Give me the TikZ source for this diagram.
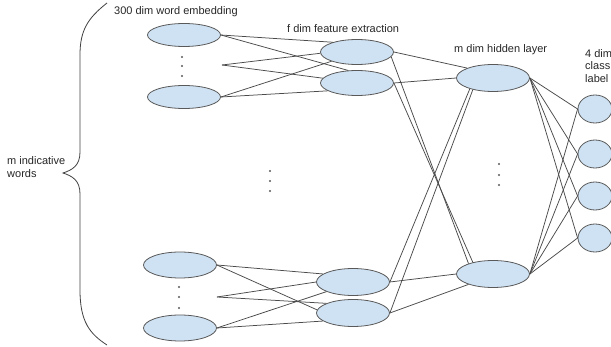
\documentclass[tikz,border=0pt]{standalone}
\usepackage{fontspec}
\setmainfont{Liberation Sans}
\usetikzlibrary{shapes.geometric}
\definecolor{nodefill}{HTML}{CFE2F3}
\definecolor{nodeline}{HTML}{595959}
\definecolor{wire}{HTML}{4A4A4A}
\tikzset{
  neuron/.style={ellipse, draw=nodeline, fill=nodefill, line width=0.8pt, inner sep=0pt, minimum width=73pt},
  conn/.style={draw=wire, line width=0.75pt},
  lbl/.style={inner sep=0pt, anchor=west, align=left, font=\fontsize{11}{12.5}\selectfont, text=black!85},
  vdot/.style={fill=black!65, circle, inner sep=0pt, minimum size=2.4pt}
}
\begin{document}
\begin{tikzpicture}[x=1pt,y=-1pt]
\useasboundingbox (0,0) rectangle (611,347);
% layer A
\node[neuron, minimum height=23pt] (A1) at (184,35) {};
\node[neuron, minimum height=23pt] (A2) at (184,97) {};
\node[neuron, minimum height=26pt] (A3) at (180,265) {};
\node[neuron, minimum height=26pt] (A4) at (180,328) {};
% layer B
\node[neuron, minimum height=25pt] (B1) at (357,52) {};
\node[neuron, minimum height=25pt] (B2) at (357,83) {};
\node[neuron, minimum height=27pt] (B3) at (353,282) {};
\node[neuron, minimum height=27pt] (B4) at (353,313) {};
% layer C
\node[neuron, minimum height=27pt] (C1) at (493,78) {};
\node[neuron, minimum height=27pt] (C2) at (493,274) {};
% layer D
\node[neuron, minimum width=34pt, minimum height=28pt] (D1) at (595,109) {};
\node[neuron, minimum width=34pt, minimum height=28pt] (D2) at (595,154) {};
\node[neuron, minimum width=34pt, minimum height=28pt] (D3) at (595,196) {};
\node[neuron, minimum width=34pt, minimum height=28pt] (D4) at (595,238) {};
% convergence points
\coordinate (P1) at (222,65);
\coordinate (P2) at (217,297);
% dots
\node[vdot] (d1) at (182,57) {};
\node[vdot] (d2) at (182,66) {};
\node[vdot] (d3) at (182,76) {};
\node[vdot] (d4) at (179,287) {};
\node[vdot] (d5) at (179,297) {};
\node[vdot] (d6) at (179,308) {};
\node[vdot] (d7) at (270,171) {};
\node[vdot] (d8) at (270,181) {};
\node[vdot] (d9) at (270,191) {};
\node[vdot] (d10) at (499,164) {};
\node[vdot] (d11) at (499,175) {};
\node[vdot] (d12) at (499,185) {};
% A -> B
\draw[conn] (A1.east) -- (B1.158);
\draw[conn] (A1.east) -- (B2.125);
\draw[conn] (P1) -- (B1.182);
\draw[conn] (P1) -- (B2.172);
\draw[conn] (A2.east) -- (B1.200);
\draw[conn] (A2.east) -- (B2.195);
\draw[conn] (A3.east) -- (B3.165);
\draw[conn] (A3.east) -- (B4.175);
\draw[conn] (P2) -- (B3.180);
\draw[conn] (P2) -- (B4.160);
\draw[conn] (A4.east) -- (B3.200);
\draw[conn] (A4.east) -- (B4.195);
% B -> C
\draw[conn] (B1.east) -- (C1.159);
\draw[conn] (B1.-8) -- (C2.157);
\draw[conn] (B2.east) -- (C1.west);
\draw[conn] (B2.east) -- (C2.150);
\draw[conn] (B3.east) -- (C1.205);
\draw[conn] (B3.east) -- (C2.west);
\draw[conn] (B4.east) -- (C1.210);
\draw[conn] (B4.east) -- (C2.203);
% C -> D
\foreach \d in {D1,D2,D3,D4}{
  \draw[conn] (C1.east) -- (\d.west);
  \draw[conn] (C2.east) -- (\d.west);
}
% brace
\draw[draw=black!75, line width=0.8pt] (107,3) .. controls (88,18) and (80,30) .. (80,55)
  -- (80,152) .. controls (80,166) and (72,170) .. (63,173)
  .. controls (72,176) and (80,180) .. (80,194)
  -- (80,290) .. controls (80,322) and (90,334) .. (107,345);
% labels
\node[lbl] (t1) at (114,12) {300 dim word embedding};
\node[lbl] (t2) at (287,29) {f dim feature extraction};
\node[lbl] (t3) at (454,50) {m dim hidden layer};
\node[lbl] (t4) at (585,66) {4 dim\\class\\label};
\node[lbl] (t5) at (7,167) {m indicative\\words};
\end{tikzpicture}
\end{document}
